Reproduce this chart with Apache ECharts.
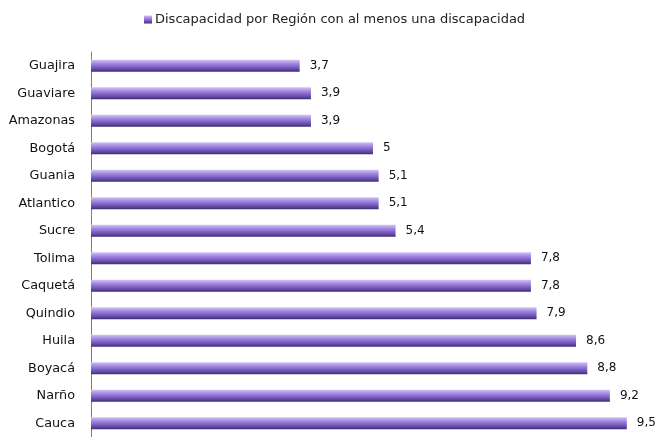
<!DOCTYPE html>
<html lang="es">
    <head>
        <meta charset="utf-8">
        <script src="https://cdn.jsdelivr.net/npm/echarts@6/dist/echarts.min.js"></script>
        <title>Discapacidad por Región</title>
        <style>
            html, body { margin: 0; padding: 0; background: #fff; }
            #chart { width: 659px; height: 437px; }
        </style>
    </head>
    <body>
        <div id="chart"></div>
        <script>
            // datos (de arriba hacia abajo)
            var regiones = ['Guajira','Guaviare','Amazonas','Bogotá','Guania','Atlantico','Sucre',
                            'Tolima','Caquetá','Quindio','Huila','Boyacá','Narño','Cauca'];
            var valores = [3.7, 3.9, 3.9, 5, 5.1, 5.1, 5.4, 7.8, 7.8, 7.9, 8.6, 8.8, 9.2, 9.5];
            var serieNombre = 'Discapacidad por Región con al menos una discapacidad';

            var barColor = new echarts.graphic.LinearGradient(0, 0, 0, 1, [
                { offset: 0, color: '#d3c4f5' },
                { offset: 0.3, color: '#a68be2' },
                { offset: 0.55, color: '#8568c9' },
                { offset: 0.8, color: '#6248a6' },
                { offset: 1, color: '#3d2b6b' }
            ]);

            var chart = echarts.init(document.getElementById('chart'));
            chart.setOption({
                animation: false,
                legend: {
                    data: [serieNombre],
                    left: 139,
                    top: 8,
                    itemWidth: 8,
                    itemHeight: 8,
                    itemGap: 4,
                    icon: 'rect',
                    textStyle: { fontFamily: 'DejaVu Sans', fontSize: 13, color: '#222', padding: [0, 0, 0, -2] }
                },
                grid: {
                    left: 91,
                    top: 52,
                    width: 564,
                    height: 394,
                    containLabel: false
                },
                xAxis: {
                    type: 'value',
                    min: 0,
                    max: 10,
                    show: false
                },
                yAxis: {
                    type: 'category',
                    inverse: true,
                    data: regiones,
                    axisLine: { show: true, lineStyle: { color: '#808080', width: 1 } },
                    axisTick: { show: false },
                    axisLabel: {
                        margin: 16,
                        fontFamily: 'DejaVu Sans',
                        fontSize: 12.8,
                        color: '#111'
                    }
                },
                series: [{
                    name: serieNombre,
                    type: 'bar',
                    data: valores,
                    barWidth: 12,
                    itemStyle: {
                        color: barColor,
                        borderColor: '#3d2b6b',
                        borderWidth: 0
                    },
                    label: {
                        show: true,
                        position: 'right',
                        distance: 10,
                        fontFamily: 'DejaVu Sans',
                        fontSize: 12,
                        color: '#111',
                        formatter: function (p) {
                            return String(p.value).replace('.', ',');
                        }
                    }
                }]
            });
        </script>
    </body>
</html>
